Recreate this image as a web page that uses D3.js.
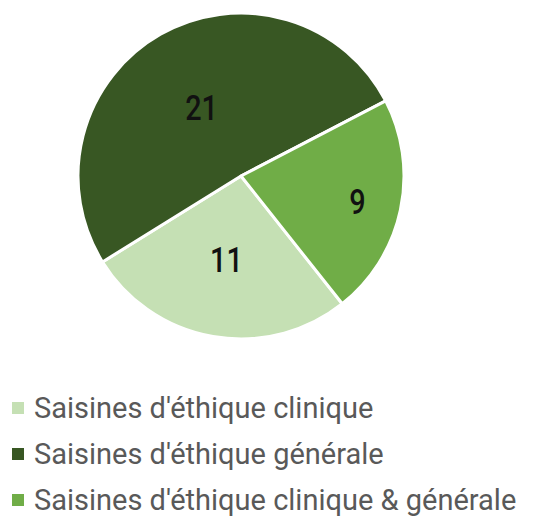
<!DOCTYPE html>
<html>
<head>
<meta charset="utf-8">
<title>Saisines</title>
<script src="https://cdn.jsdelivr.net/npm/d3@7"></script>
<style>
  body { margin: 0; background: #fff; }
  text { font-family: Roboto, "DejaVu Sans", sans-serif; }
</style>
</head>
<body>
<script>
// data
var categories = ["Saisines d'éthique clinique", "Saisines d'éthique générale", "Saisines d'éthique clinique & générale"];
var values = [11, 21, 9];
var colors = ["#c5e0b4", "#385723", "#70ad47"];
// label distance from centre, as share of radius (best fit, like the original)
var labelPos = [0.52, 0.49, 0.73];

var width = 534, height = 519;
var cx = 241, cy = 176, radius = 163;

var svg = d3.select("body").append("svg")
    .attr("width", width)
    .attr("height", height);

// first slice starts around 141.6 deg clockwise from top
var start = 141.6 * Math.PI / 180;
var pie = d3.pie().sort(null).startAngle(start).endAngle(start + 2 * Math.PI);
var arc = d3.arc().innerRadius(0).outerRadius(radius);

var g = svg.append("g").attr("transform", "translate(" + cx + "," + cy + ")");
var arcs = pie(values);

g.selectAll("path.slice")
    .data(arcs)
    .enter().append("path")
    .attr("class", "slice")
    .attr("d", arc)
    .attr("fill", function (d, i) { return colors[i]; })
    .attr("stroke", "#fff")
    .attr("stroke-width", 3)
    .attr("stroke-linejoin", "round");

g.selectAll("text.val")
    .data(arcs)
    .enter().append("text")
    .attr("class", "val")
    .attr("transform", function (d, i) {
        var r = radius * labelPos[i];
        var c = d3.arc().innerRadius(r).outerRadius(r).centroid(d);
        return "translate(" + c[0] + "," + c[1] + ") scale(0.8,1)";
    })
    .attr("text-anchor", "middle")
    .attr("dy", "0.36em")
    .attr("font-size", 36)
    .attr("font-weight", 500)
    .attr("fill", "#111")
    .text(function (d) { return d.value; });

// legend
var legend = svg.append("g").attr("transform", "translate(12,0)");
var rowY = d3.scalePoint().domain(categories).range([408, 500]);

var rows = legend.selectAll("g.row")
    .data(categories)
    .enter().append("g")
    .attr("class", "row")
    .attr("transform", function (d) { return "translate(0," + rowY(d) + ")"; });

rows.append("rect")
    .attr("x", 0).attr("y", -6)
    .attr("width", 12).attr("height", 12)
    .attr("fill", function (d, i) { return colors[i]; });

rows.append("text")
    .attr("x", 22)
    .attr("dy", "0.36em")
    .attr("font-size", 29)
    .attr("fill", "#595959")
    .text(function (d) { return d; });
</script>
</body>
</html>
